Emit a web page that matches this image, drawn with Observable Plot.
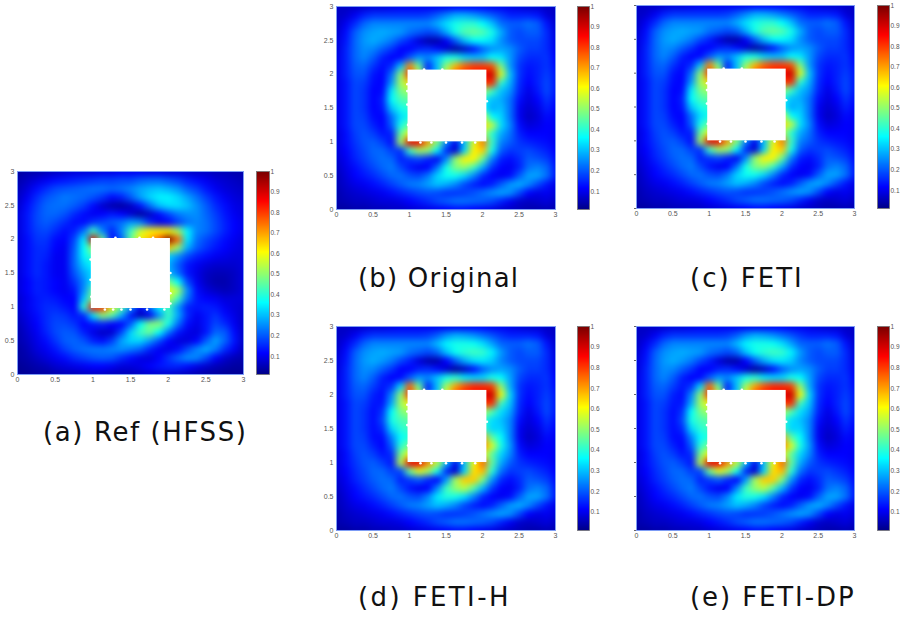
<!DOCTYPE html>
<html><head><meta charset="utf-8">
<script src="https://cdn.jsdelivr.net/npm/d3@7"></script>
<script src="https://cdn.jsdelivr.net/npm/@observablehq/plot@0.6"></script>
<style>
html,body{margin:0;padding:0;background:#fff}
#page{position:relative;width:906px;height:617px;overflow:hidden}
.p{position:absolute}
.cap{position:absolute;font-family:"DejaVu Sans";font-size:26px;color:#111;white-space:pre}
</style></head><body><div id="page"></div>
<script>
const axisTicks=[0,0.5,1,1.5,2,2.5,3];
const barTicks=[0.1,0.2,0.3,0.4,0.5,0.6,0.7,0.8,0.9,1];
const jetStops=[0,0.11,0.36,0.61,0.86,1];
const jetColors=["#00007f","#0000ff","#00ffff","#ffff00","#ff0000","#7f0000"];
const barLevels=d3.range(100,0,-1).map(v=>v/100);
// fields x 100, rows from y=3 down to y=0, columns x=0..3, step 0.125
const gridA=[
[3,4,4,5,6,7,8,8,8,9,9,10,10,10,9,9,8,8,7,6,6,5,5,4,4],
[4,6,8,10,12,13,14,15,16,17,17,18,18,20,21,21,19,17,14,12,10,8,7,6,5],
[5,8,12,15,18,19,20,21,22,22,21,22,24,27,29,30,28,25,20,17,13,10,8,7,6],
[6,10,15,19,21,23,22,21,19,16,12,14,20,27,32,35,35,32,27,22,17,13,10,8,7],
[7,12,17,21,22,22,20,17,12,7,4,3,6,13,22,30,33,33,30,25,20,15,12,9,8],
[8,13,18,21,21,19,15,12,10,11,13,11,7,3,6,12,18,23,25,25,21,17,13,10,8],
[8,13,18,20,18,15,12,12,16,18,20,22,26,24,15,9,11,17,22,24,22,18,14,11,9],
[8,13,17,18,15,12,14,22,42,24,14,24,42,56,62,62,62,52,35,24,22,18,14,11,9],
[8,12,16,16,12,11,18,34,90,46,12,20,46,62,68,78,105,76,34,22,18,15,12,10,8],
[8,12,15,15,11,10,20,36,52,46,30,30,30,30,40,60,66,50,28,20,16,13,11,9,8],
[8,12,15,14,10,10,21,35,42,40,30,30,30,30,30,30,32,25,18,14,12,10,9,8,8],
[8,12,15,13,10,10,21,31,36,30,30,30,30,30,30,30,28,20,13,10,8,7,7,7,8],
[8,12,15,13,10,10,19,27,33,30,30,30,30,30,30,30,30,22,13,9,6,5,5,6,8],
[8,11,14,13,11,10,16,24,35,30,30,30,30,30,30,40,48,36,18,10,6,4,4,6,8],
[8,11,14,13,11,10,13,25,45,40,30,30,30,30,30,50,60,52,25,12,8,6,5,6,8],
[7,10,13,14,13,11,11,30,50,46,30,30,30,30,30,45,55,42,22,13,11,10,8,8,8],
[7,10,13,15,15,13,11,40,84,82,62,45,26,10,22,35,42,26,14,13,14,13,10,8,7],
[6,9,12,15,17,16,13,15,34,50,44,28,13,5,10,25,42,28,15,10,13,16,12,9,6],
[5,8,11,15,18,18,16,11,13,14,11,11,20,36,48,50,38,22,12,9,13,18,15,10,6],
[4,7,10,14,18,20,19,14,9,6,7,18,32,42,46,36,22,13,9,8,13,21,20,12,6],
[4,6,9,12,16,20,21,19,14,12,17,27,32,32,26,18,11,8,8,11,20,27,21,13,6],
[3,5,8,10,13,17,20,22,23,23,24,25,23,20,14,10,9,12,18,24,28,23,15,10,5],
[3,4,6,8,10,12,15,17,19,20,19,15,12,9,8,11,16,21,25,24,18,11,7,5,4],
[2,3,4,5,7,8,9,10,11,11,10,8,8,9,11,13,14,14,12,9,7,5,4,3,3],
[2,2,3,3,4,5,5,6,6,6,5,5,5,6,7,7,7,6,5,4,3,3,2,2,2]];
const gridB=[
[6,6,6,7,8,8,9,10,10,10,10,10,10,11,11,11,11,10,10,9,8,7,7,6,6],
[6,7,10,14,16,16,16,16,16,16,17,20,24,28,28,26,23,20,17,14,14,14,13,8,6],
[6,10,15,21,24,24,24,24,24,24,24,28,33,38,40,40,36,30,22,20,20,22,20,13,7],
[7,12,20,25,27,28,27,26,22,20,18,20,28,38,44,46,44,38,28,20,18,20,20,15,8],
[8,13,21,26,28,26,23,18,14,8,4,4,10,20,30,36,36,33,25,20,18,18,18,15,9],
[8,14,21,25,24,20,16,11,11,14,15,12,7,3,6,12,20,25,27,25,20,17,17,15,10],
[9,14,21,24,20,14,11,12,20,26,24,30,38,38,32,30,30,36,34,26,18,15,15,16,11],
[9,14,20,21,16,12,15,30,72,46,14,30,50,68,76,80,80,78,48,26,16,13,14,16,12],
[9,14,19,19,13,11,22,50,82,56,18,30,58,76,82,84,86,92,58,30,16,12,14,17,13],
[9,13,18,17,12,11,26,52,64,56,40,40,40,40,50,66,80,82,40,28,15,11,14,18,13],
[9,13,18,16,11,12,34,48,52,40,40,40,40,40,40,40,52,42,30,25,14,9,13,18,13],
[9,13,18,16,11,14,36,43,45,40,40,40,40,40,40,40,38,30,28,22,12,8,11,16,12],
[9,13,18,16,11,13,30,38,40,40,40,40,40,40,40,40,36,28,30,22,10,7,9,14,11],
[9,13,18,17,12,11,22,33,38,40,40,40,40,40,40,45,58,36,32,22,10,6,8,12,10],
[9,13,18,18,14,11,20,38,46,40,40,40,40,40,40,50,65,55,33,24,12,8,9,11,10],
[8,12,17,19,17,13,14,46,60,52,40,40,40,40,40,45,55,40,28,22,14,11,11,11,10],
[8,12,16,19,20,17,12,52,88,88,70,50,25,10,30,58,74,42,24,20,16,14,13,12,10],
[8,11,15,18,21,21,17,16,42,52,50,35,15,7,32,62,66,38,20,16,17,18,16,14,11],
[7,10,14,17,20,22,21,14,16,18,14,10,24,50,62,62,46,24,14,12,15,20,19,17,12],
[6,9,12,15,18,21,23,18,13,10,11,22,38,48,50,42,28,16,11,10,14,22,24,21,13],
[5,8,11,13,15,18,21,22,19,18,23,32,37,37,32,24,15,11,10,12,20,27,27,22,13],
[5,7,9,10,12,14,17,20,23,24,27,30,28,24,18,14,12,14,20,26,28,24,18,13,9],
[4,6,7,8,9,10,12,14,16,18,19,18,16,16,17,19,22,25,27,25,18,11,9,10,8],
[4,5,6,6,7,8,8,9,11,13,15,18,20,22,22,21,20,18,14,10,7,6,7,8,6],
[3,3,4,4,5,5,6,6,7,8,9,10,11,12,12,11,10,9,7,6,5,4,4,5,4]];
const gridD=[
[6,6,6,7,8,8,9,10,10,10,10,10,10,10,10,11,11,10,10,9,8,7,7,6,6],
[6,7,10,14,16,16,16,16,16,16,17,20,25,28,27,25,22,19,16,14,14,14,13,8,6],
[6,10,15,21,24,24,24,24,24,24,24,29,35,38,38,37,33,27,21,20,20,22,20,13,7],
[7,12,20,25,27,28,27,26,22,20,18,21,30,37,40,42,41,35,26,20,18,20,20,15,8],
[8,13,21,26,28,26,23,18,14,8,4,4,11,20,28,33,34,31,24,20,18,18,18,15,9],
[8,14,21,25,24,20,16,11,11,14,15,12,7,3,6,12,20,25,27,25,20,17,17,15,10],
[9,14,21,24,20,14,11,12,20,26,24,30,38,40,34,32,32,38,36,27,18,15,15,16,11],
[9,14,20,21,17,13,16,32,76,46,14,30,52,70,78,82,82,80,50,28,16,13,14,16,12],
[9,14,19,19,14,12,24,50,82,56,18,30,60,78,84,86,88,92,60,32,16,12,14,17,13],
[9,13,18,17,13,13,28,52,62,56,40,40,40,40,50,66,80,82,42,30,15,11,14,18,13],
[9,13,18,16,12,16,36,48,52,40,40,40,40,40,40,40,54,44,33,27,14,9,13,18,13],
[9,13,18,16,12,18,38,43,45,40,40,40,40,40,40,40,42,33,30,24,12,8,11,16,12],
[9,13,18,16,12,15,32,40,42,40,40,40,40,40,40,40,42,32,32,24,10,7,9,14,11],
[9,13,18,17,12,12,24,36,40,40,40,40,40,40,40,50,70,45,36,24,10,6,8,12,10],
[9,13,18,18,14,11,20,40,48,40,40,40,40,40,40,55,74,58,38,26,12,8,9,11,10],
[8,12,17,19,17,13,15,48,62,52,40,40,40,40,40,50,62,45,32,24,14,11,11,11,10],
[8,12,16,19,20,17,13,54,88,88,72,56,30,10,30,60,76,46,28,20,16,14,13,12,10],
[8,11,15,18,21,21,17,18,46,58,52,38,15,7,32,64,68,40,22,16,17,18,16,14,11],
[7,10,14,17,20,22,21,14,17,20,15,11,26,52,66,66,48,26,15,12,15,20,19,17,12],
[6,9,12,15,18,21,23,18,13,10,11,24,42,50,54,44,29,17,11,10,14,22,24,21,13],
[5,8,11,13,15,18,21,22,19,18,24,34,39,38,33,24,15,11,10,12,20,27,27,22,13],
[5,7,9,10,12,14,17,20,23,24,27,30,28,24,18,14,12,14,20,26,28,24,18,13,9],
[4,6,7,8,9,10,12,14,16,18,19,18,16,16,17,19,22,25,27,25,18,11,9,10,8],
[4,5,6,6,7,8,8,9,11,13,15,18,20,22,22,21,20,18,14,10,7,6,7,8,6],
[3,3,4,4,5,5,6,6,7,8,9,10,11,12,12,11,10,9,7,6,5,4,4,5,4]];
const holeA=[{x1:0.98,x2:2.03,y1:0.975,y2:2.01}];
const holeB=[{x1:0.98,x2:2.06,y1:1.0,y2:2.06}];
const fringeAx=[1.16,1.27,1.38,1.5,1.72,1.95,2.03,2.03,2.03,0.97,0.98,0.97,1.3,1.62,1.8];
const fringeAy=[0.96,0.96,0.96,0.96,0.96,0.96,1.2,1.05,1.5,1.7,1.15,1.4,2.02,2.02,2.02];
const fringeBx=[1.15,1.3,1.5,1.72,1.9,2.06,0.97,0.97,0.98,0.97,1.2,1.45];
const fringeBy=[0.99,0.99,0.99,0.99,0.99,1.6,1.75,1.55,1.25,1.85,2.07,2.07];
const panels=[
 {grid:gridA,hole:holeA,fx:fringeAx,fy:fringeAy,left:17,top:171,w:226,h:203,barLeft:256,barW:13,yLabels:true},
 {grid:gridB,hole:holeB,fx:fringeBx,fy:fringeBy,left:336,top:6,w:219,h:203,barLeft:577,barW:12,yLabels:true},
 {grid:gridB,hole:holeB,fx:fringeBx,fy:fringeBy,left:636,top:5,w:218,h:203,barLeft:877,barW:12,yLabels:false},
 {grid:gridD,hole:holeB,fx:fringeBx,fy:fringeBy,left:336,top:326,w:219,h:204,barLeft:577,barW:12,yLabels:true},
 {grid:gridD,hole:holeB,fx:fringeBx,fy:fringeBy,left:636,top:326,w:218,h:204,barLeft:877,barW:12,yLabels:false}];
const captions=[["(a) Ref (HFSS)",43,417,1.6],["(b) Original",358,263,1.2],["(c) FETI",690,263,2],["(d) FETI-H",358,582,2.4],["(e) FETI-DP",690,582,1.9]];
const page=document.getElementById("page");
const tc="#555",tf="Liberation Sans";
const color={type:"linear",domain:jetStops,range:jetColors,clamp:true};
function place(el,l,t){el.classList.add("p");el.style.left=l+"px";el.style.top=t+"px";page.appendChild(el);}
for(const p of panels){
 const m=20;
 const chart=Plot.plot({width:p.w+2*m,height:p.h+2*m,marginLeft:m,marginRight:m,marginTop:m,marginBottom:m,
  style:{background:"transparent"},
  x:{domain:[0,3]},y:{domain:[0,3]},color,
  marks:[
   Plot.raster(p.grid.flat(),{width:25,height:25,fill:d=>d/100,x1:-0.0625,x2:3.0625,y1:3.0625,y2:-0.0625,clip:true}),
   Plot.rect(p.hole,{x1:"x1",x2:"x2",y1:"y1",y2:"y2",fill:"white"}),
   Plot.dot(p.fx,{x:d=>d,y:(d,i)=>p.fy[i],r:1.3,fill:"white"}),
   Plot.frame({stroke:"#7d9cf5",strokeWidth:1}),
   Plot.axisX({ticks:axisTicks,tickFormat:d=>String(d),tickSize:0,tickPadding:3,fontSize:7,fontFamily:tf,color:tc,label:null}),
   p.yLabels?Plot.axisY({ticks:axisTicks,tickFormat:d=>String(d),tickSize:0,tickPadding:3,fontSize:7,fontFamily:tf,color:tc,label:null})
            :Plot.axisY({ticks:axisTicks,tickFormat:()=>"",tickSize:2,tickPadding:2,stroke:"#666",label:null})
  ]});
 chart.querySelectorAll("image").forEach(im=>{im.style.filter="blur(2.2px)";});
 place(chart,p.left-m,p.top-m);
 const bar=Plot.plot({width:p.barW+2*m,height:p.h+2*m,marginLeft:m,marginRight:m,marginTop:m,marginBottom:m,
  style:{background:"transparent"},
  x:{domain:[0,1],axis:null},y:{domain:[0.012,1]},color,
  marks:[
   Plot.raster(barLevels,{width:1,height:barLevels.length,fill:d=>d,x1:0,x2:1,y1:1,y2:0.012}),
   Plot.frame({stroke:"#777",strokeWidth:0.8}),
   Plot.axisY({anchor:"right",ticks:barTicks,tickFormat:d=>String(d),tickSize:0,tickPadding:1,fontSize:6.5,fontFamily:tf,color:tc,label:null})
  ]});
 place(bar,p.barLeft-m,p.top-m);
}
for(const [t,l,y,s] of captions){
 const d=document.createElement("div");d.className="cap";d.textContent=t;d.style.left=l+"px";d.style.top=y+"px";d.style.letterSpacing=s+"px";page.appendChild(d);
}
</script></body></html>
